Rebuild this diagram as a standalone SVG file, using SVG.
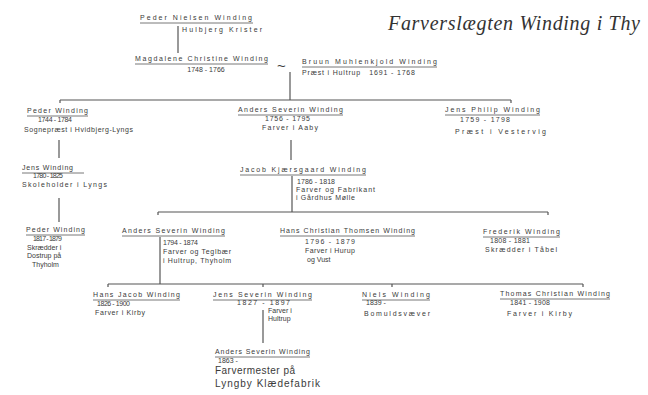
<svg xmlns="http://www.w3.org/2000/svg" width="648" height="395" viewBox="0 0 648 395">
<style>
.t{font-family:"Liberation Sans",Arial,sans-serif;font-size:7px;fill:#3a3a3a}
.b{font-size:10px}
.ttl{font-family:"Liberation Serif","Times New Roman",serif;font-style:italic;font-size:20px;fill:#333}
.u{stroke:#555;stroke-width:0.8;fill:none}
.c{stroke:#555;stroke-width:1.2;fill:none}
</style>
<rect width="648" height="395" fill="#fff"/>
<text class="ttl" x="388" y="30" textLength="252">Farverslægten Winding i Thy</text>
<g id="connectors">
<path class="c" d="M178 26V53"/>
<path class="c" d="M290 72V100"/>
<path class="c" d="M60 100H511M60 100v3M511 100v3"/>
<path class="c" d="M59 140V158"/>
<path class="c" d="M59 198V222"/>
<path class="c" d="M291 140V160"/>
<path class="c" d="M292 176V212"/>
<path class="c" d="M158 212H548M158 212v3M548 212v3"/>
<path class="c" d="M160 237V284"/>
<path class="c" d="M108 284H583M108 284v3M263 284v3M392 284v3M583 284v3"/>
<path class="c" d="M263 310V343"/>
</g>
<g id="n_peder_nielsen">
<text class="t" x="140" y="20" textLength="112">Peder Nielsen Winding</text>
<path class="u" d="M140 23H253"/>
<text class="t" x="182" y="32" textLength="80">Hulbjerg Krister</text>
</g>
<g id="n_magdalene">
<text class="t" x="135" y="61" textLength="133">Magdalene Christine Winding</text>
<path class="u" d="M135 64H268"/>
<text class="t" x="206" y="72" text-anchor="middle">1748 - 1766</text>
</g>
<text class="t" x="277" y="71" style="font-size:15px">~</text>
<g id="n_bruun">
<text class="t" x="302" y="64" textLength="135">Bruun Muhlenkjold Winding</text>
<path class="u" d="M302 67H437"/>
<text class="t" x="302" y="75" textLength="113" xml:space="preserve">Præst i Hultrup   1691 - 1768</text>
</g>
<g id="n_peder1">
<text class="t" x="27" y="113" textLength="61">Peder Winding</text>
<path class="u" d="M27 116H88"/>
<text class="t" x="38" y="122" textLength="34">1744 - 1784</text>
<text class="t" x="24" y="132" textLength="109">Sognepræst i Hvidbjerg-Lyngs</text>
</g>
<g id="n_anders1">
<text class="t" x="238" y="112" textLength="105">Anders Severin Winding</text>
<path class="u" d="M238 115H343"/>
<text class="t" x="265" y="121" textLength="45">1756 - 1795</text>
<text class="t" x="262" y="130" textLength="56">Farver i Aaby</text>
</g>
<g id="n_jensphilip">
<text class="t" x="445" y="112" textLength="95">Jens Philip Winding</text>
<path class="u" d="M445 115H540"/>
<text class="t" x="460" y="122" textLength="50">1759 - 1798</text>
<text class="t" x="455" y="134" textLength="91">Præst i Vestervig</text>
</g>
<g id="n_jens">
<text class="t" x="22" y="170" textLength="51">Jens Winding</text>
<path class="u" d="M22 173H84"/>
<text class="t" x="33" y="178" textLength="30">1780 - 1825</text>
<text class="t" x="22" y="187" textLength="85">Skoleholder i Lyngs</text>
</g>
<g id="n_peder2">
<text class="t" x="26" y="232" textLength="59">Peder Winding</text>
<path class="u" d="M26 235H85"/>
<text class="t" x="33" y="241" textLength="29">1817 - 1879</text>
<text class="t" x="27" y="250">Skrædder i</text>
<text class="t" x="27" y="258">Dostrup på</text>
<text class="t" x="32" y="267">Thyholm</text>
</g>
<g id="n_jacob">
<text class="t" x="240" y="172" textLength="126">Jacob Kjærsgaard Winding</text>
<path class="u" d="M240 175H366"/>
<text class="t" x="297" y="184" textLength="38">1786 - 1818</text>
<text class="t" x="296" y="192" textLength="79">Farver og Fabrikant</text>
<text class="t" x="296" y="200" textLength="59">i Gårdhus Mølle</text>
</g>
<g id="n_anders2">
<text class="t" x="122" y="233" textLength="103">Anders Severin Winding</text>
<path class="u" d="M122 236H225"/>
<text class="t" x="163" y="245" textLength="35">1794 - 1874</text>
<text class="t" x="163" y="254" textLength="68">Farver og Teglbær</text>
<text class="t" x="163" y="263" textLength="68">i Hultrup, Thyholm</text>
</g>
<g id="n_hanschristian">
<text class="t" x="280" y="233" textLength="135">Hans Christian Thomsen Winding</text>
<path class="u" d="M280 236H415"/>
<text class="t" x="305" y="244" textLength="50">1796 - 1879</text>
<text class="t" x="305" y="253" textLength="50">Farver i Hurup</text>
<text class="t" x="307" y="262">og Vust</text>
</g>
<g id="n_frederik">
<text class="t" x="483" y="234" textLength="77">Frederik Winding</text>
<path class="u" d="M483 237H560"/>
<text class="t" x="490" y="243" textLength="40">1808 - 1881</text>
<text class="t" x="485" y="252" textLength="72">Skrædder i Tåbel</text>
</g>
<g id="n_hansjacob">
<text class="t" x="93" y="297" textLength="87">Hans Jacob Winding</text>
<path class="u" d="M93 300H180"/>
<text class="t" x="97" y="306" textLength="33">1826 - 1900</text>
<text class="t" x="95" y="315" textLength="50">Farver i Kirby</text>
</g>
<g id="n_jensseverin">
<text class="t" x="213" y="297" textLength="99">Jens Severin Winding</text>
<path class="u" d="M213 300H312"/>
<text class="t" x="237" y="305" textLength="53">1827 - 1897</text>
<text class="t" x="268" y="313">Farver i</text>
<text class="t" x="268" y="321">Hultrup</text>
</g>
<g id="n_niels">
<text class="t" x="362" y="297" textLength="68">Niels Winding</text>
<path class="u" d="M362 300H430"/>
<text class="t" x="366" y="305">1839 -</text>
<text class="t" x="364" y="316" textLength="66">Bomuldsvæver</text>
</g>
<g id="n_thomas">
<text class="t" x="500" y="296" textLength="110">Thomas Christian Winding</text>
<path class="u" d="M500 299H610"/>
<text class="t" x="510" y="305" textLength="40">1841 - 1908</text>
<text class="t" x="507" y="316" textLength="65">Farver i Kirby</text>
</g>
<g id="n_anders3">
<text class="t" x="215" y="354" textLength="95">Anders Severin Winding</text>
<path class="u" d="M215 357H310"/>
<text class="t" x="218" y="363">1863 -</text>
<text class="t b" x="215" y="374" textLength="80">Farvermester på</text>
<text class="t b" x="215" y="387" textLength="105">Lyngby Klædefabrik</text>
</g>
</svg>
